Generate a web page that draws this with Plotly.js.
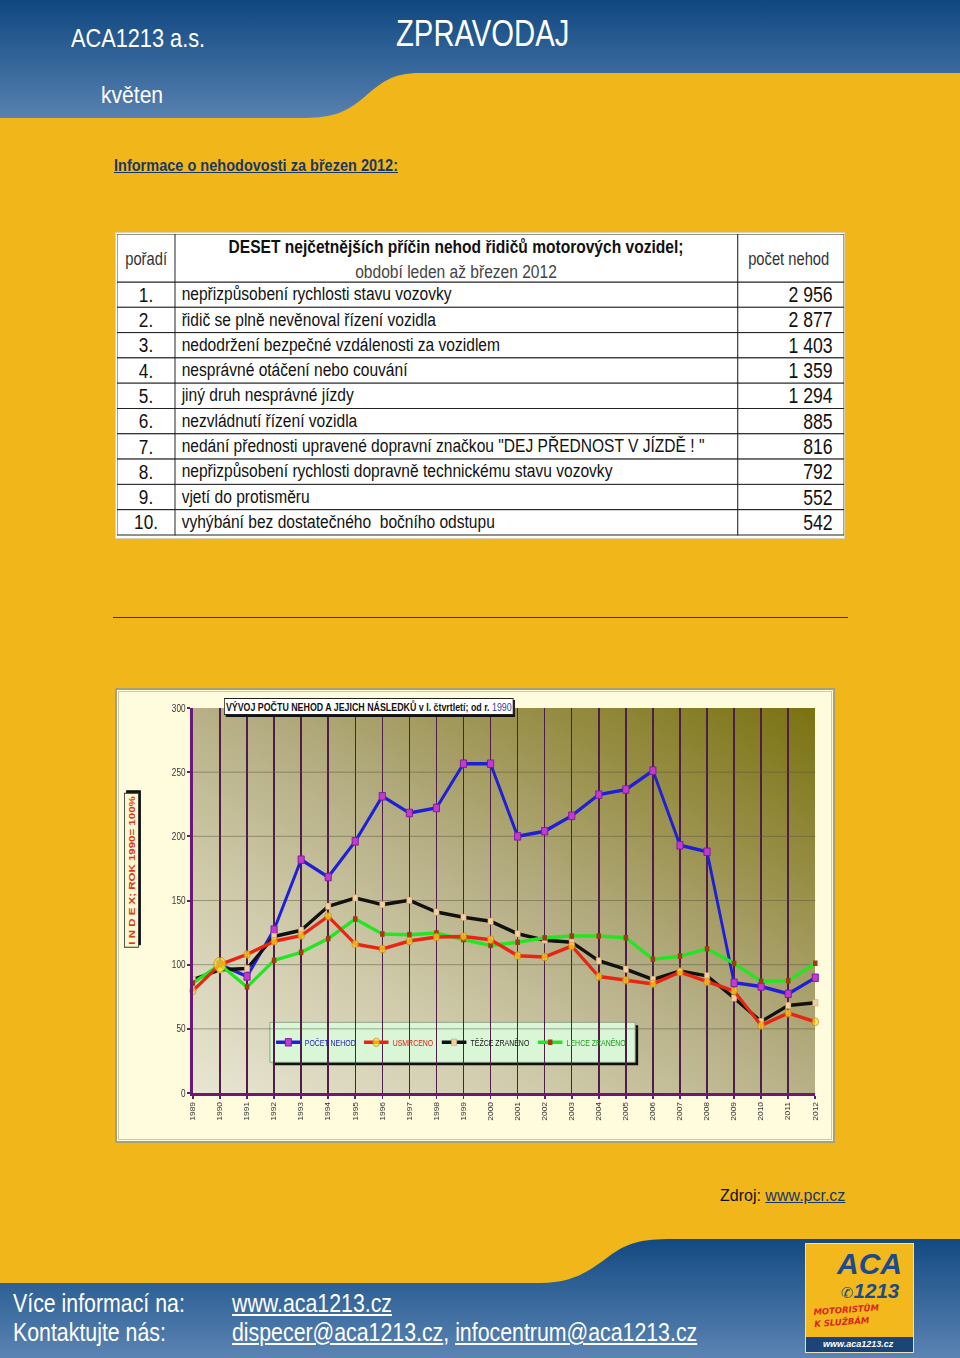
<!DOCTYPE html>
<html>
<head>
<meta charset="utf-8">
<script src="https://cdn.plot.ly/plotly-3.0.1.min.js"></script>
<style>
  html, body { margin:0; padding:0; }
  body { width:960px; height:1358px; position:relative; overflow:hidden; background:#f1b71a;
         font-family:"Liberation Sans",Arial,sans-serif; }
  .abs { position:absolute; white-space:nowrap; line-height:1; }
  .n { transform:scaleX(0.82); transform-origin:0 0; }
  .w { color:#fff; }
  #bg { position:absolute; left:0; top:0; }
  #tableWrap { position:absolute; left:115px; top:232px; width:730px; height:307px; background:#fff;
               box-sizing:border-box; border:1px solid #d8d2b0; overflow:hidden; }
  #table { position:absolute; left:1px; top:1px; width:887px; height:304px; transform:scaleX(0.8196); transform-origin:0 0; }
  #table .cell-text-holder { translate: 0 -4px; }
  #chartWrap { position:absolute; left:115px; top:688px; width:720px; height:455px; background:#fefcdc;
               box-sizing:border-box; border:2px solid #a8a078; }
  #chartInner { position:absolute; left:1px; top:1px; right:1px; bottom:1px; border:1px solid #d0c8a0; }
  #grad { position:absolute; left:76px; top:18px; width:622px; height:385px;
          background:linear-gradient(to top right, #e8e5d2 0%, #d0cbab 28%, #b5ae84 52%, #988f48 76%, #7a7210 100%); }
  #chart { position:absolute; left:-2px; top:-2px; width:878px; height:455px; transform:scaleX(0.82); transform-origin:0 0; }
</style>
</head>
<body>
<svg id="bg" width="960" height="1358">
  <defs>
    <linearGradient id="hg" x1="0" y1="0" x2="0" y2="1">
      <stop offset="0" stop-color="#0f4780"/>
      <stop offset="1" stop-color="#5781b0"/>
    </linearGradient>
    <linearGradient id="fg" x1="0" y1="0" x2="0" y2="1">
      <stop offset="0" stop-color="#134a82"/>
      <stop offset="1" stop-color="#5b84b3"/>
    </linearGradient>
  </defs>
  <path d="M0,0 H960 V73 H420 C392,73 382,82 362,99 C344,114 330,118 300,118 H0 Z" fill="url(#hg)"/>
  <path d="M0,1283 H540 C572,1283 588,1272 608,1257 C628,1242 642,1239 672,1239 H960 V1358 H0 Z" fill="url(#fg)"/>
  <line x1="113" y1="617.5" x2="848" y2="617.5" stroke="#333" stroke-width="1"/>
  <rect x="805.5" y="1243.5" width="108" height="109" fill="#f2b81c" stroke="#e8e0c0" stroke-width="1"/>
  <rect x="806" y="1337" width="107" height="15" fill="#1b4577"/>
</svg>

<div class="abs w n" style="left:71px; top:24.5px; font-size:26.5px;">ACA1213 a.s.</div>
<div class="abs w n" style="left:396px; top:15px; font-size:37.5px; transform:scaleX(0.78);">ZPRAVODAJ</div>
<div class="abs w n" style="left:101px; top:83px; font-size:24.5px; transform:scaleX(0.86);">květen</div>
<div class="abs n" style="left:114px; top:157px; font-size:16.5px; font-weight:bold; color:#1c3763; text-decoration:underline; transform:scaleX(0.88);">Informace o nehodovosti za březen 2012:</div>

<div id="tableWrap"><div id="table"></div></div>

<div id="chartWrap"><div id="chartInner"></div><div id="grad"></div><div id="chart"></div></div>

<div class="abs" style="left:720px; top:1188px; font-size:16px; color:#111;">Zdroj: <span style="color:#1c3763; text-decoration:underline;">www.pcr.cz</span></div>

<div class="abs w n" style="left:13px; top:1290px; font-size:26px;">Více informací na:</div>
<div class="abs w n" style="left:13px; top:1319px; font-size:26px;">Kontaktujte nás:</div>
<div class="abs w n" style="left:232px; top:1290px; font-size:26px; text-decoration:underline;">www.aca1213.cz</div>
<div class="abs w n" style="left:232px; top:1319px; font-size:26px;"><span style="text-decoration:underline;">dispecer@aca1213.cz</span>, <span style="text-decoration:underline;">infocentrum@aca1213.cz</span></div>

<div class="abs" style="left:837px; top:1249px; font-size:30px; font-weight:bold; font-style:italic; color:#1d4a8c;">ACA</div>
<div class="abs" style="left:841px; top:1281px; font-size:20.5px; font-weight:bold; font-style:italic; color:#1d4a8c;"><span style="font-weight:normal;font-size:15px;font-style:normal;font-family:'DejaVu Sans',sans-serif;">✆</span>1213</div>
<div class="abs" style="left:813px; top:1306px; font-size:8.5px; font-style:italic; font-weight:bold; color:#d8261a; line-height:12px; font-family:'DejaVu Sans',sans-serif; transform:rotate(-4deg); transform-origin:left top;">MOTORISTŮM<br>K SLUŽBÁM</div>
<div class="abs" style="left:823px; top:1340px; font-size:9px; font-style:italic; font-weight:bold; color:#fff;">www.aca1213.cz</div>

<script>
// ---------- table data ----------
var poradi = ["1.","2.","3.","4.","5.","6.","7.","8.","9.","10."];
var priciny = [
  "nepřizpůsobení rychlosti stavu vozovky",
  "řidič se plně nevěnoval řízení vozidla",
  "nedodržení bezpečné vzdálenosti za vozidlem",
  "nesprávné otáčení nebo couvání",
  "jiný druh nesprávné jízdy",
  "nezvládnutí řízení vozidla",
  "nedání přednosti upravené dopravní značkou \"DEJ PŘEDNOST V JÍZDĚ ! \"",
  "nepřizpůsobení rychlosti dopravně technickému stavu vozovky",
  "vjetí do protisměru",
  "vyhýbání bez dostatečného  bočního odstupu"
];
var pocetNehodTab = ["2 956","2 877","1 403","1 359","1 294","885","816","792","552","542"];
var headerLabels = ["pořadí",
  "<b>DESET nejčetnějších příčin nehod řidičů motorových vozidel;</b><br><span style='color:#444;font-weight:normal'>období leden až březen 2012</span>",
  "počet nehod"];

// ---------- chart data (index, 1990 = 100) ----------
var years = [1989,1990,1991,1992,1993,1994,1995,1996,1997,1998,1999,2000,2001,2002,2003,2004,2005,2006,2007,2008,2009,2010,2011,2012];
var pocetNehod = [null,100,90.8,127.3,181.8,168.3,196.1,231.2,218.2,222.1,256.6,256.6,200.0,204.0,216.0,232.5,236.5,251.2,193.0,188.0,85.9,83.0,77.3,89.8];
var usmrceno   = [79.7,100,108.0,118.2,122.6,137.7,116.1,112.2,118.4,121.6,122.0,119.5,107.0,106.0,114.5,90.8,87.9,85.0,94.2,86.5,79.5,52.6,62.2,55.5];
var tezceZraneno = [88.3,96,97.0,122.0,126.8,145.5,152.0,146.8,150.1,141.0,136.9,133.8,124.1,119.1,117.4,103.0,96.4,88.5,95.0,91.3,74.0,55.7,68.2,70.3];
var lehceZraneno = [85.7,100,82.6,103.4,109.6,120.3,135.6,123.9,123.4,124.7,119.5,115.0,117.5,120.9,122.3,122.3,121.0,104.3,106.6,112.4,101.0,87.0,87.5,101.1];
var seriesNames = ["POČET NEHOD","USMRCENO","TĚŽCE ZRANĚNO","LEHCE ZRANĚNO"];
var yTicks = [0,50,100,150,200,250,300];

var SANS = "Liberation Sans, Arial, sans-serif";

// ---------- table (drawn 887px wide, squeezed to 727px to mimic a narrow face) ----------
var TH = 304;
var NB = "\u00a0";
Plotly.newPlot("table", [{
  type: "table",
  columnwidth: [58, 562, 106],
  header: {
    values: ["", "", ""],
    height: 48,
    line: {color: "#222", width: 1},
    fill: {color: "#fff"},
    font: {family: SANS, size: 18, color: "#111"}
  },
  cells: {
    values: [poradi, priciny, pocetNehodTab.map(function(s){ return s + NB; })],
    align: ["center","left","right"],
    height: 25.3,
    line: {color: "#222", width: 1},
    fill: {color: "#fff"},
    font: {family: SANS, size: [21,19,21.5], color: "#111"}
  }
}], {
  width: 887, height: TH,
  margin: {l:0, r:0, t:0, b:0},
  paper_bgcolor: "#fff",
  annotations: [
    {text: headerLabels[0], xref:"paper", yref:"paper", x: 29/727, y: 1-25/TH, xanchor:"center", yanchor:"middle", showarrow:false, font:{family:SANS, size:18, color:"#333"}},
    {text: headerLabels[1], xref:"paper", yref:"paper", x: 339/727, y: 1-25/TH, xanchor:"center", yanchor:"middle", showarrow:false, font:{family:SANS, size:19, color:"#111"}},
    {text: headerLabels[2], xref:"paper", yref:"paper", x: 672/727, y: 1-25/TH, xanchor:"center", yanchor:"middle", showarrow:false, font:{family:SANS, size:18, color:"#333"}}
  ]
}, {displayModeBar:false, staticPlot:true});

// ---------- chart (drawn 878px wide, squeezed by 0.82) ----------
var bigSizes = years.map(function(y){ return y === 1990 ? 15 : 8; });
var traces = [
  {x: years, y: pocetNehod, name: "<span style='color:#2020c8'>" + seriesNames[0] + "</span>", legendrank: 1,
   mode: "lines+markers", line: {color:"#1f1fd8", width:3.5},
   marker: {symbol:"square", size:7.5, color:"#c23ad0", line:{color:"#7a1a9a", width:1}}, cliponaxis:false},
  {x: years, y: tezceZraneno, name: "<span style='color:#111'>" + seriesNames[2] + "</span>", legendrank: 3,
   mode: "lines+markers", line: {color:"#111", width:3.5},
   marker: {symbol:"square", size:6.5, color:"#f2cfa0", line:{color:"#c09060", width:0.5}}, cliponaxis:false},
  {x: years, y: lehceZraneno, name: "<span style='color:#1a9a1a'>" + seriesNames[3] + "</span>", legendrank: 4,
   mode: "lines+markers", line: {color:"#22e622", width:3.5},
   marker: {symbol:"square", size:5.5, color:"#a33a12", line:{width:0}}, cliponaxis:false},
  {x: years, y: usmrceno, name: "<span style='color:#e02010'>" + seriesNames[1] + "</span>", legendrank: 2,
   mode: "lines+markers", line: {color:"#e82512", width:3.5},
   marker: {symbol:"circle", size:bigSizes, color:"#f6e21e", line:{color:"#d07010", width:1}}, cliponaxis:false}
];

var W = 622, H = 385;     // plot area in final (squeezed) pixels
function px(dx){ return dx / W; }
function py(dy){ return dy / H; }
var TOP = 707.7;

var layout = {
  width: 878, height: 455,
  margin: {l:95.1, r:24.4, t:20, b:50},
  paper_bgcolor: "rgba(0,0,0,0)",
  plot_bgcolor: "rgba(0,0,0,0)",
  font: {family: SANS, color:"#333"},
  xaxis: {
    range: [1989, 2012], tickvals: years, ticktext: years.map(String),
    tickangle: -90, tickfont: {size: 8.5, family: SANS, color:"#333"},
    showgrid: true, gridcolor: "#4e1e46", gridwidth: 1.8,
    showline: true, linecolor: "#6a1a72", linewidth: 2.5,
    ticks: "outside", ticklen: 3, tickcolor: "#6a1a72", tickwidth: 2,
    zeroline: false, fixedrange: true
  },
  yaxis: {
    range: [0, 300], tickvals: yTicks, ticktext: yTicks.map(String),
    tickfont: {size: 10, family: SANS, color:"#333"},
    showgrid: true, gridcolor: "rgba(90,85,60,0.55)", gridwidth: 1,
    showline: true, linecolor: "#6a1a72", linewidth: 3,
    ticks: "outside", ticklen: 4, tickcolor: "#6a1a72", tickwidth: 2,
    zeroline: false, fixedrange: true
  },
  showlegend: true,
  legend: {
    orientation: "h", x: px(272-193), y: 1 - py(1042-TOP), xanchor: "left", yanchor: "middle",
    bgcolor: "rgba(0,0,0,0)", borderwidth: 0, itemwidth: 30,
    font: {family: SANS, size: 8.5}, traceorder: "normal"
  },
  shapes: [
    {type:"rect", xref:"paper", yref:"paper", layer:"between",
     x0: px(273-193), x1: px(638-193), y0: 1-py(1065-TOP), y1: 1-py(1025-TOP),
     fillcolor:"#111", line:{width:0}},
    {type:"rect", xref:"paper", yref:"paper", layer:"between",
     x0: px(270-193), x1: px(635-193), y0: 1-py(1062-TOP), y1: 1-py(1022-TOP),
     fillcolor:"#d9f6d6", line:{color:"#8a9a80", width:1}}
  ],
  annotations: [
    {text: "<b>VÝVOJ POČTU NEHOD A JEJICH NÁSLEDKŮ</b> <b>v I. čtvrtletí; od r.</b> <span style='color:#3a3aa0'>1990</span>",
     xref:"paper", yref:"paper", x: px(224-193), y: 1+py(TOP-698), xanchor:"left", yanchor:"top",
     xshift: 2.5, yshift: -2, showarrow:false, bgcolor:"#111", bordercolor:"#111", borderwidth:1, borderpad:1,
     font:{family:SANS, size:10.8, color:"#111"}},
    {text: "<b>VÝVOJ POČTU NEHOD A JEJICH NÁSLEDKŮ</b> <b>v I. čtvrtletí; od r.</b> <span style='color:#3a3aa0'>1990</span>",
     xref:"paper", yref:"paper", x: px(224-193), y: 1+py(TOP-698), xanchor:"left", yanchor:"top",
     showarrow:false, bgcolor:"#fff", bordercolor:"#222", borderwidth:1, borderpad:1,
     font:{family:SANS, size:10.8, color:"#111"}},
    {text: "<b>I N D E X; ROK 1990= 100%</b>", textangle:-90,
     xref:"paper", yref:"paper", x: px(131.5-193), y: 1-py(869.5-TOP), xanchor:"center", yanchor:"middle",
     xshift: 2.5, yshift: 2, showarrow:false, bgcolor:"#111", bordercolor:"#111", borderwidth:1, borderpad:2,
     font:{family:SANS, size:11.5, color:"#111"}},
    {text: "<b>I N D E X; ROK 1990= 100%</b>", textangle:-90,
     xref:"paper", yref:"paper", x: px(131.5-193), y: 1-py(869.5-TOP), xanchor:"center", yanchor:"middle",
     showarrow:false, bgcolor:"#fdf8d0", bordercolor:"#333", borderwidth:1, borderpad:2,
     font:{family:SANS, size:11.5, color:"#de3a1a"}}
  ]
};

Plotly.newPlot("chart", traces, layout, {displayModeBar:false, staticPlot:true});
</script>
</body>
</html>
